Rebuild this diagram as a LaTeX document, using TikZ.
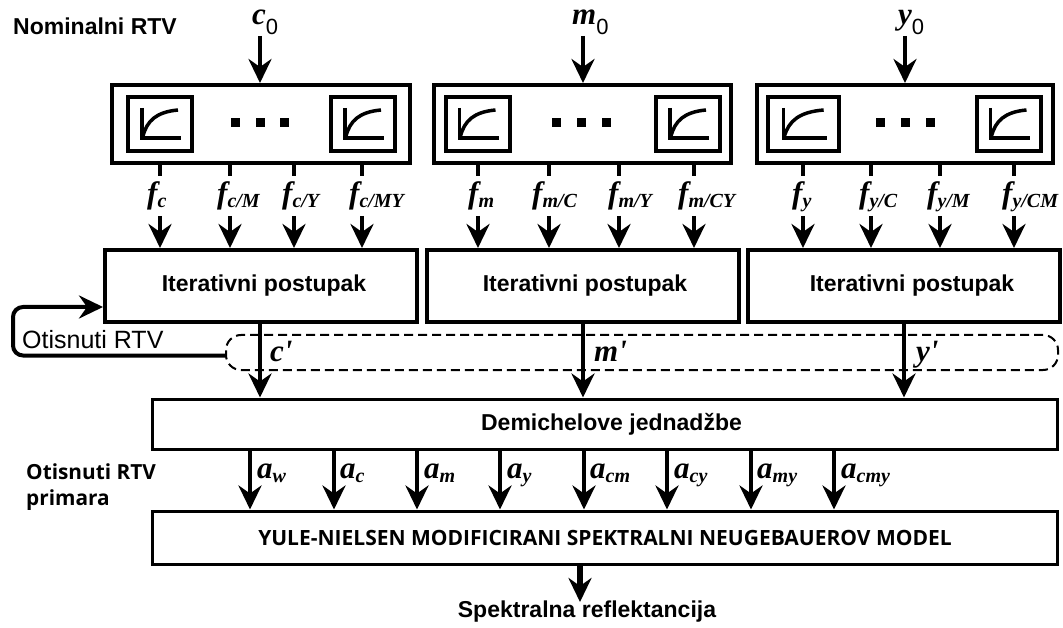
\documentclass[tikz,border=0pt]{standalone}
\usepackage{fontspec}
\setmainfont{Liberation Serif}
\setsansfont{Liberation Sans}
\newfontfamily\labelfont{Open Sans}
\usetikzlibrary{arrows.meta}
\tikzset{
  block/.style = {draw=black, rectangle, line width=4pt, inner sep=0pt,
    font=\sffamily\bfseries\fontsize{23}{23}\selectfont},
  thinblock/.style = {block, line width=3pt},
  crvbox/.style = {draw=black, rectangle, line width=4pt, inner sep=0pt,
    minimum height=78pt},
  crvframe/.style = {draw=black, rectangle, line width=4pt, inner sep=0pt,
    minimum width=64pt, minimum height=54pt},% okvir krivulje
  dotnode/.style = {fill=black, rectangle, inner sep=0pt, minimum size=9pt},
  sym/.style = {inner sep=0pt, anchor=base west,
    font=\bfseries\itshape\fontsize{31}{31}\selectfont},
  caption/.style = {inner sep=0pt, anchor=west,
    font=\sffamily\bfseries\fontsize{23}{23}\selectfont},
  captionb/.style = {inner sep=0pt, anchor=west,
    font=\labelfont\bfseries\fontsize{20.8}{24}\selectfont},
  arr/.style = {-{Stealth[length=24pt,width=23pt,inset=8pt]}, line width=4pt},
  stub/.style = {line width=4pt},
  crv/.style = {line width=3.5pt},
  crvplot/.pic = {
    \draw [crv] (-18,-16) -- (-18,14) -- (21,14);
    \draw [crv] (-17,12) .. controls (-13,-3) and (-4,-12) .. (18,-14);
  }
}
\newcommand{\subl}[2]{#1\raisebox{-4pt}{\fontsize{20}{20}\selectfont #2}}
\newcommand{\subz}[1]{#1\raisebox{-10pt}{\sffamily\mdseries\upshape\fontsize{22}{22}\selectfont 0}}
\begin{document}
\begin{tikzpicture}[x=1pt,y=-1pt]
\useasboundingbox (0,0) rectangle (1063,628);

% krivulje
\node [crvbox, minimum width=298pt] (tc) at (261,124) {};
\node [crvbox, minimum width=297pt] (tm) at (582.5,124) {};
\node [crvbox, minimum width=296pt] (ty) at (905,124) {};
\node [crvframe] (cl) at (160,124) {};
\node [crvframe] (cr) at (363,124) {};
\node [crvframe] (ml) at (477.5,124) {};
\node [crvframe] (mr) at (688,124) {};
\node [crvframe, minimum width=71pt] (yl) at (803.5,124) {};
\node [crvframe] (yr) at (1008.5,124) {};
\pic at (cl.center) {crvplot};
\pic at (cr.center) {crvplot};
\pic at (ml.center) {crvplot};
\pic at (mr.center) {crvplot};
\pic [xscale=1.12] at (yl.center) {crvplot};
\pic at (yr.center) {crvplot};
\node [dotnode] (cd1) at (235,123) {};
\node [dotnode] (cd2) at (260,123) {};
\node [dotnode] (cd3) at (284,123) {};
\node [dotnode] (md1) at (556,123) {};
\node [dotnode] (md2) at (581,123) {};
\node [dotnode] (md3) at (606,123) {};
\node [dotnode] (yd1) at (880,123) {};
\node [dotnode] (yd2) at (905,123) {};
\node [dotnode] (yd3) at (930,123) {};

% blokovi
\node [block, minimum width=312pt, minimum height=72pt] (itc) at (261,286) {\hspace*{6pt}Iterativni postupak};
\node [block, minimum width=312pt, minimum height=72pt] (itm) at (583,286) {\hspace*{4pt}Iterativni postupak};
\node [block, minimum width=312pt, minimum height=72pt] (ity) at (904,286) {\hspace*{16pt}Iterativni postupak};
\node [thinblock, minimum width=905pt, minimum height=50pt] (dem) at (605,424) {\hspace*{13pt}Demichelove jednadžbe};
\node [thinblock, minimum width=905pt, minimum height=53pt,
  font=\labelfont\bfseries\fontsize{21}{21}\selectfont] (ynm) at (605,537.5) {YULE-NIELSEN MODIFICIRANI SPEKTRALNI NEUGEBAUEROV MODEL};
\node [draw=black, line width=2pt, dash pattern=on 9pt off 5pt, rounded corners=15pt,
  inner sep=0pt, minimum width=832pt, minimum height=35pt] (otbox) at (642,352.5) {};

% tekst
\node [caption] (nom) at (13,26) {Nominalni RTV};
\node [caption, font=\sffamily\fontsize{25}{25}\selectfont] (otis) at (22,340) {Otisnuti RTV};
\node [captionb] (prim1) at (26,472) {Otisnuti RTV};
\node [captionb] (prim2) at (26,500) {primara};
\node [inner sep=0pt, font=\sffamily\bfseries\fontsize{23}{23}\selectfont] (spek) at (587,612) {Spektralna reflektancija};

% ulazi
\node [sym] (c0) at (252,25) {\subz{c}};
\node [sym] (m0) at (572,25) {\subz{m}};
\node [sym] (y0) at (898,25) {\subz{y}};
\coordinate (c0a) at (260,36);
\coordinate (m0a) at (583,36);
\coordinate (y0a) at (905,36);
\draw [arr] (c0a) -- (tc.north -| c0a);
\draw [arr] (m0a) -- (tm.north -| m0a);
\draw [arr] (y0a) -- (ty.north -| y0a);

% krivulje prema postupku
\coordinate (fin) at (0,216);
\coordinate (fc1) at (160,176);
\coordinate (fc2) at (230,176);
\coordinate (fc3) at (294,176);
\coordinate (fc4) at (362,176);
\coordinate (fm1) at (478,176);
\coordinate (fm2) at (549,176);
\coordinate (fm3) at (619,176);
\coordinate (fm4) at (694,176);
\coordinate (fy1) at (803,176);
\coordinate (fy2) at (871,176);
\coordinate (fy3) at (940,176);
\coordinate (fy4) at (1014,176);
\draw [stub] (tc.south -| fc1) -- (fc1);
\draw [stub] (tc.south -| fc2) -- (fc2);
\draw [stub] (tc.south -| fc3) -- (fc3);
\draw [stub] (tc.south -| fc4) -- (fc4);
\draw [stub] (tm.south -| fm1) -- (fm1);
\draw [stub] (tm.south -| fm2) -- (fm2);
\draw [stub] (tm.south -| fm3) -- (fm3);
\draw [stub] (tm.south -| fm4) -- (fm4);
\draw [stub] (ty.south -| fy1) -- (fy1);
\draw [stub] (ty.south -| fy2) -- (fy2);
\draw [stub] (ty.south -| fy3) -- (fy3);
\draw [stub] (ty.south -| fy4) -- (fy4);
\node [sym] (lfc1) at (147,204) {\subl{f}{c}};
\node [sym] (lfc2) at (217,204) {\subl{f}{c/M}};
\node [sym] (lfc3) at (282,204) {\subl{f}{c/Y}};
\node [sym] (lfc4) at (349,204) {\subl{f}{c/MY}};
\node [sym] (lfm1) at (468,204) {\subl{f}{m}};
\node [sym] (lfm2) at (532,204) {\subl{f}{m/C}};
\node [sym] (lfm3) at (608,204) {\subl{f}{m/Y}};
\node [sym] (lfm4) at (678,204) {\subl{f}{m/CY}};
\node [sym] (lfy1) at (792,204) {\subl{f}{y}};
\node [sym] (lfy2) at (859,204) {\subl{f}{y/C}};
\node [sym] (lfy3) at (927,204) {\subl{f}{y/M}};
\node [sym] (lfy4) at (1002,204) {\subl{f}{y/CM}};
\draw [arr] (fc1 |- fin) -- (itc.north -| fc1);
\draw [arr] (fc2 |- fin) -- (itc.north -| fc2);
\draw [arr] (fc3 |- fin) -- (itc.north -| fc3);
\draw [arr] (fc4 |- fin) -- (itc.north -| fc4);
\draw [arr] (fm1 |- fin) -- (itm.north -| fm1);
\draw [arr] (fm2 |- fin) -- (itm.north -| fm2);
\draw [arr] (fm3 |- fin) -- (itm.north -| fm3);
\draw [arr] (fm4 |- fin) -- (itm.north -| fm4);
\draw [arr] (fy1 |- fin) -- (ity.north -| fy1);
\draw [arr] (fy2 |- fin) -- (ity.north -| fy2);
\draw [arr] (fy3 |- fin) -- (ity.north -| fy3);
\draw [arr] (fy4 |- fin) -- (ity.north -| fy4);

% povratna veza
\coordinate (fba) at (13,355.5);
\coordinate (fbb) at (13,307);
\draw [arr, rounded corners=10pt] (otbox.west |- fba) -- (fba) -- (fbb) -- (itc.west |- fbb);

% otisnuti
\coordinate (cp) at (260,380);
\coordinate (mp) at (583,380);
\coordinate (yp) at (904,380);
\draw [arr] (itc.south -| cp) -- (dem.north -| cp);
\draw [arr] (itm.south -| mp) -- (dem.north -| mp);
\draw [arr] (ity.south -| yp) -- (dem.north -| yp);
\node [sym] (lc) at (270,362) {c\textquotesingle};
\node [sym] (lm) at (594,362) {m\textquotesingle};
\node [sym] (ly) at (916,362) {y\textquotesingle};

% povrsine primara
\coordinate (aw) at (250,480);
\coordinate (ac) at (334,480);
\coordinate (am) at (417,480);
\coordinate (ay) at (500,480);
\coordinate (acm) at (584,480);
\coordinate (acy) at (667,480);
\coordinate (amy) at (751,480);
\coordinate (acmy) at (834,480);
\draw [arr] (dem.south -| aw) -- (ynm.north -| aw);
\draw [arr] (dem.south -| ac) -- (ynm.north -| ac);
\draw [arr] (dem.south -| am) -- (ynm.north -| am);
\draw [arr] (dem.south -| ay) -- (ynm.north -| ay);
\draw [arr] (dem.south -| acm) -- (ynm.north -| acm);
\draw [arr] (dem.south -| acy) -- (ynm.north -| acy);
\draw [arr] (dem.south -| amy) -- (ynm.north -| amy);
\draw [arr] (dem.south -| acmy) -- (ynm.north -| acmy);
\node [sym] (law) at (257,478) {\subl{a}{w}};
\node [sym] (lac) at (340,478) {\subl{a}{c}};
\node [sym] (lam) at (424,478) {\subl{a}{m}};
\node [sym] (lay) at (507,478) {\subl{a}{y}};
\node [sym] (lacm) at (590,478) {\subl{a}{cm}};
\node [sym] (lacy) at (674,478) {\subl{a}{cy}};
\node [sym] (lamy) at (757,478) {\subl{a}{my}};
\node [sym] (lacmy) at (841,478) {\subl{a}{cmy}};

% izlaz
\coordinate (out) at (580,602);
\draw [arr, line width=6pt] (ynm.south -| out) -- (out);
\end{tikzpicture}
\end{document}
